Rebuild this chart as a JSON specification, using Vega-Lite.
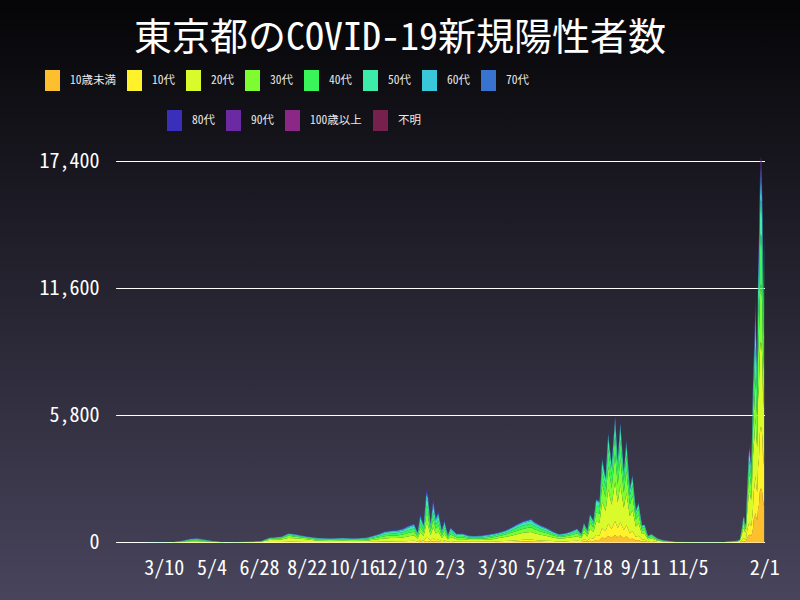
{
  "$schema": "https://vega.github.io/schema/vega-lite/v6.json",
  "width": 800,
  "height": 600,
  "autosize": {"type": "none"},
  "padding": 0,
  "background": "#050507",
  "title": {
    "text": "東京都のCOVID-19新規陽性者数",
    "font": "Noto Sans Mono CJK JP, Noto Sans CJK JP, DejaVu Sans Mono",
    "fontSize": 38,
    "fontWeight": "normal",
    "color": "#ffffff",
    "anchor": "middle",
    "frame": "group",
    "baseline": "alphabetic",
    "offset": -88
  },
  "config": {
    "view": {
      "stroke": null,
      "fill": {
        "gradient": "linear",
        "x1": 0, "y1": 0, "x2": 0, "y2": 1,
        "stops": [
          {"offset": 0, "color": "#050507"},
          {"offset": 1, "color": "#48445c"}
        ]
      }
    },
    "font": "Noto Sans Mono CJK JP, Noto Sans CJK JP, DejaVu Sans Mono",
    "axis": {
      "labelFont": "Noto Sans Mono CJK JP, Noto Sans CJK JP, DejaVu Sans Mono",
      "labelFontSize": 20,
      "labelColor": "#ffffff",
      "domain": false,
      "ticks": false,
      "grid": false,
      "title": null
    },
    "legend": {
      "labelFont": "Noto Sans Mono CJK JP, Noto Sans CJK JP, DejaVu Sans Mono",
      "labelFontSize": 11.5,
      "labelColor": "#e8e8e8",
      "labelOffset": 7,
      "columnPadding": 8,
      "padding": 0,
      "symbolStrokeWidth": 0,
      "symbolOpacity": 1,
      "title": null
    }
  },
  "datasets": {
    "ages": [
      {"o": 1, "age": "10歳未満"},
      {"o": 2, "age": "10代"},
      {"o": 3, "age": "20代"},
      {"o": 4, "age": "30代"},
      {"o": 5, "age": "40代"},
      {"o": 6, "age": "50代"},
      {"o": 7, "age": "60代"},
      {"o": 8, "age": "70代"},
      {"o": 9, "age": "80代"},
      {"o": 10, "age": "90代"},
      {"o": 11, "age": "100歳以上"},
      {"o": 12, "age": "不明"}
    ],
    "grid": [{"n": 0}, {"n": 5800}, {"n": 11600}, {"n": 17400}],
    "daily": [
      {"t": "2020-01-16", "v": [0,0,0,0,0,0,0,0,0,0,0,0]},
      {"t": "2020-02-13", "v": [0,0,1,0,0,1,0,0,0,0,0,0]},
      {"t": "2020-03-05", "v": [0,0,2,2,1,1,1,1,0,0,0,0]},
      {"t": "2020-03-19", "v": [0,0,4,3,3,2,1,1,1,0,0,0]},
      {"t": "2020-03-31", "v": [1,2,20,18,14,11,6,4,3,1,0,0]},
      {"t": "2020-04-10", "v": [2,5,45,40,31,25,14,9,7,2,0,0]},
      {"t": "2020-04-17", "v": [2,6,50,44,34,28,16,10,8,2,0,0]},
      {"t": "2020-04-24", "v": [2,4,37,33,26,21,12,8,6,1,0,0]},
      {"t": "2020-05-05", "v": [1,2,17,15,12,10,6,4,3,0,0,0]},
      {"t": "2020-05-19", "v": [0,0,3,3,2,2,1,1,0,0,0,0]},
      {"t": "2020-06-02", "v": [0,1,5,4,3,3,2,1,1,0,0,0]},
      {"t": "2020-06-16", "v": [1,2,14,9,5,4,2,1,1,1,0,0]},
      {"t": "2020-06-30", "v": [1,4,24,13,7,5,2,2,1,1,0,0]},
      {"t": "2020-07-10", "v": [5,14,92,48,28,18,9,7,5,2,0,2]},
      {"t": "2020-07-24", "v": [6,17,112,59,34,22,11,8,6,3,0,2]},
      {"t": "2020-08-01", "v": [9,26,176,92,53,35,18,13,9,4,0,5]},
      {"t": "2020-08-07", "v": [8,24,160,84,48,32,16,12,8,4,0,4]},
      {"t": "2020-08-21", "v": [6,18,120,63,36,24,12,9,6,3,0,3]},
      {"t": "2020-09-04", "v": [7,13,59,44,35,29,15,9,7,2,0,0]},
      {"t": "2020-09-18", "v": [6,12,54,40,32,26,14,8,6,2,0,0]},
      {"t": "2020-10-02", "v": [7,13,59,44,35,29,15,9,7,2,0,0]},
      {"t": "2020-10-16", "v": [6,12,54,40,32,26,14,8,6,2,0,0]},
      {"t": "2020-10-30", "v": [7,14,62,46,37,30,16,9,7,2,0,0]},
      {"t": "2020-11-13", "v": [12,24,108,80,64,52,28,16,12,4,0,0]},
      {"t": "2020-11-20", "v": [16,31,140,104,83,68,36,21,16,5,0,0]},
      {"t": "2020-11-27", "v": [17,34,151,112,90,73,39,22,17,5,0,0]},
      {"t": "2020-12-04", "v": [17,35,157,116,93,75,41,23,17,6,0,0]},
      {"t": "2020-12-11", "v": [20,39,175,130,104,85,45,26,20,6,0,0]},
      {"t": "2020-12-18", "v": [24,48,216,160,128,104,56,32,24,8,0,0]},
      {"t": "2020-12-24", "v": [26,53,238,176,141,114,62,35,26,9,0,0]},
      {"t": "2020-12-28", "v": [14,29,130,96,77,62,34,19,14,5,0,0]},
      {"t": "2020-12-31", "v": [40,80,335,241,214,188,94,67,54,27,0,0]},
      {"t": "2021-01-04", "v": [26,53,220,158,141,123,62,44,35,18,0,0]},
      {"t": "2021-01-07", "v": [74,147,612,441,392,343,171,122,98,50,0,0]},
      {"t": "2021-01-09", "v": [68,136,568,409,363,318,159,113,91,45,0,0]},
      {"t": "2021-01-12", "v": [29,58,243,175,155,136,68,48,39,19,0,0]},
      {"t": "2021-01-15", "v": [61,122,510,367,326,286,143,102,82,41,0,0]},
      {"t": "2021-01-18", "v": [36,72,300,216,192,168,84,60,48,24,0,0]},
      {"t": "2021-01-21", "v": [44,88,368,265,235,206,103,73,59,29,0,0]},
      {"t": "2021-01-25", "v": [19,37,155,112,99,87,43,31,25,12,0,0]},
      {"t": "2021-01-28", "v": [32,64,265,191,170,148,74,53,42,21,0,0]},
      {"t": "2021-02-01", "v": [12,23,98,70,62,55,27,20,16,7,0,0]},
      {"t": "2021-02-04", "v": [22,44,183,131,117,102,51,37,29,14,0,0]},
      {"t": "2021-02-11", "v": [13,26,108,77,69,60,30,22,17,8,0,0]},
      {"t": "2021-02-18", "v": [13,26,110,79,70,62,31,22,18,9,0,0]},
      {"t": "2021-02-25", "v": [10,20,85,61,54,48,24,17,14,7,0,0]},
      {"t": "2021-03-04", "v": [10,19,80,58,51,45,22,16,13,6,0,0]},
      {"t": "2021-03-11", "v": [10,20,85,61,54,48,24,17,14,7,0,0]},
      {"t": "2021-03-18", "v": [11,23,95,68,61,53,27,19,15,8,0,0]},
      {"t": "2021-03-25", "v": [13,26,108,77,69,60,30,22,17,8,0,0]},
      {"t": "2021-04-01", "v": [19,38,154,91,72,53,24,14,10,5,0,0]},
      {"t": "2021-04-08", "v": [22,45,179,106,84,62,28,17,11,6,0,0]},
      {"t": "2021-04-15", "v": [28,56,224,133,105,77,35,21,14,7,0,0]},
      {"t": "2021-04-22", "v": [34,69,275,163,129,95,43,26,17,9,0,0]},
      {"t": "2021-04-29", "v": [40,80,320,190,150,110,50,30,20,10,0,0]},
      {"t": "2021-05-08", "v": [44,88,352,209,165,121,55,33,22,11,0,0]},
      {"t": "2021-05-12", "v": [38,77,307,182,144,106,48,29,19,10,0,0]},
      {"t": "2021-05-19", "v": [32,64,256,152,120,88,40,24,16,8,0,0]},
      {"t": "2021-05-26", "v": [27,54,218,129,102,75,34,20,14,7,0,0]},
      {"t": "2021-06-02", "v": [21,42,166,99,78,57,26,16,10,5,0,0]},
      {"t": "2021-06-09", "v": [16,32,128,76,60,44,20,12,8,4,0,0]},
      {"t": "2021-06-16", "v": [17,34,138,82,65,47,22,13,9,3,0,0]},
      {"t": "2021-06-23", "v": [21,42,166,99,78,57,26,16,10,5,0,0]},
      {"t": "2021-06-30", "v": [26,52,208,124,98,71,33,20,13,5,0,0]},
      {"t": "2021-07-05", "v": [24,44,124,84,64,40,12,4,4,0,0,0]},
      {"t": "2021-07-08", "v": [54,99,279,189,144,90,27,9,9,0,0,0]},
      {"t": "2021-07-12", "v": [33,61,170,115,88,55,17,5,6,0,0,0]},
      {"t": "2021-07-15", "v": [78,143,403,273,208,130,39,13,13,0,0,0]},
      {"t": "2021-07-19", "v": [60,110,310,210,160,100,30,10,10,0,0,0]},
      {"t": "2021-07-22", "v": [119,218,614,416,317,198,59,20,19,0,0,0]},
      {"t": "2021-07-26", "v": [114,209,589,399,304,190,57,19,19,0,0,0]},
      {"t": "2021-07-29", "v": [232,425,1197,811,618,386,116,38,37,0,0,0]},
      {"t": "2021-08-02", "v": [180,330,930,630,480,300,90,30,30,0,0,0]},
      {"t": "2021-08-05", "v": [302,554,1562,1058,806,504,151,50,53,0,0,0]},
      {"t": "2021-08-09", "v": [216,396,1116,756,576,360,108,36,36,0,0,0]},
      {"t": "2021-08-13", "v": [348,638,1798,1218,928,580,174,58,58,0,0,0]},
      {"t": "2021-08-16", "v": [228,418,1178,798,608,380,114,38,38,0,0,0]},
      {"t": "2021-08-19", "v": [332,608,1714,1161,885,553,166,55,56,0,0,0]},
      {"t": "2021-08-23", "v": [198,363,1023,693,528,330,99,33,33,0,0,0]},
      {"t": "2021-08-26", "v": [282,517,1457,987,752,470,141,47,47,0,0,0]},
      {"t": "2021-08-30", "v": [150,275,775,525,400,250,75,25,25,0,0,0]},
      {"t": "2021-09-02", "v": [186,341,961,651,496,310,93,31,31,0,0,0]},
      {"t": "2021-09-06", "v": [90,165,465,315,240,150,45,15,15,0,0,0]},
      {"t": "2021-09-09", "v": [110,201,567,384,293,183,55,18,19,0,0,0]},
      {"t": "2021-09-13", "v": [48,88,248,168,128,80,24,8,8,0,0,0]},
      {"t": "2021-09-16", "v": [50,91,257,174,133,83,25,8,9,0,0,0]},
      {"t": "2021-09-20", "v": [18,33,93,63,48,30,9,3,3,0,0,0]},
      {"t": "2021-09-24", "v": [23,42,118,80,61,38,11,4,3,0,0,0]},
      {"t": "2021-10-01", "v": [10,16,50,38,30,22,14,10,6,2,0,2]},
      {"t": "2021-10-08", "v": [6,9,27,21,16,12,8,6,3,1,0,1]},
      {"t": "2021-10-22", "v": [2,2,8,6,4,3,2,2,1,0,0,0]},
      {"t": "2021-11-05", "v": [1,2,6,5,4,3,2,1,1,0,0,0]},
      {"t": "2021-11-19", "v": [1,2,6,4,3,2,2,1,1,0,0,0]},
      {"t": "2021-12-03", "v": [1,2,5,4,3,2,1,1,1,0,0,0]},
      {"t": "2021-12-17", "v": [1,2,6,5,4,3,2,1,1,0,0,0]},
      {"t": "2021-12-28", "v": [4,6,18,13,10,8,5,3,2,1,0,0]},
      {"t": "2022-01-01", "v": [4,8,30,14,10,6,3,2,1,0,0,2]},
      {"t": "2022-01-04", "v": [8,15,57,25,18,12,6,3,2,1,0,3]},
      {"t": "2022-01-05", "v": [20,39,148,66,47,31,16,8,4,1,0,10]},
      {"t": "2022-01-06", "v": [32,64,243,109,77,51,26,13,6,3,0,16]},
      {"t": "2022-01-07", "v": [46,92,350,156,110,74,37,18,9,5,0,23]},
      {"t": "2022-01-08", "v": [61,122,464,207,146,98,49,24,12,6,0,31]},
      {"t": "2022-01-09", "v": [61,122,464,207,146,98,49,24,12,6,0,31]},
      {"t": "2022-01-10", "v": [44,87,331,148,104,70,35,17,9,4,0,21]},
      {"t": "2022-01-11", "v": [48,96,365,163,115,77,38,19,10,5,0,24]},
      {"t": "2022-01-12", "v": [176,264,704,374,286,176,88,44,22,22,0,44]},
      {"t": "2022-01-13", "v": [250,374,998,530,406,250,125,62,31,31,0,63]},
      {"t": "2022-01-14", "v": [324,486,1296,689,527,324,162,81,40,40,0,81]},
      {"t": "2022-01-15", "v": [365,547,1459,775,593,365,182,91,46,46,0,91]},
      {"t": "2022-01-16", "v": [334,500,1334,709,542,334,167,83,42,42,0,83]},
      {"t": "2022-01-17", "v": [298,446,1190,632,484,298,149,74,37,37,0,75]},
      {"t": "2022-01-18", "v": [415,623,1661,882,675,415,208,104,52,52,0,103]},
      {"t": "2022-01-19", "v": [590,886,2362,1255,959,590,295,148,74,74,0,147]},
      {"t": "2022-01-20", "v": [1037,1296,2074,1382,1123,778,432,259,86,87,0,86]},
      {"t": "2022-01-21", "v": [1164,1455,2328,1552,1261,873,485,291,97,97,0,97]},
      {"t": "2022-01-22", "v": [1348,1684,2695,1797,1460,1011,561,337,112,112,0,113]},
      {"t": "2022-01-23", "v": [1136,1420,2273,1515,1231,852,474,284,95,95,0,95]},
      {"t": "2022-01-24", "v": [1020,1275,2040,1360,1105,765,425,255,85,85,0,85]},
      {"t": "2022-01-25", "v": [1537,1922,3074,2050,1665,1153,640,384,128,128,0,129]},
      {"t": "2022-01-26", "v": [1691,2113,3382,2254,1832,1268,704,423,141,141,0,141]},
      {"t": "2022-01-27", "v": [2316,2646,3639,2481,2150,1489,827,496,165,165,0,166]},
      {"t": "2022-01-28", "v": [2468,2821,3879,2644,2292,1587,881,529,176,176,0,177]},
      {"t": "2022-01-29", "v": [2440,2789,3835,2614,2266,1569,871,523,174,174,0,175]},
      {"t": "2022-01-30", "v": [2226,2544,3498,2385,2067,1431,795,477,159,159,0,159]},
      {"t": "2022-01-31", "v": [1645,1880,2585,1762,1528,1057,588,352,118,117,0,118]},
      {"t": "2022-02-01", "v": [2023,2312,3179,2167,1879,1300,723,434,144,145,0,144]}
    ]
  },
  "layer": [
    {
      "data": {"name": "grid"},
      "mark": {"type": "rule", "color": "#ffffff", "strokeWidth": 1},
      "encoding": {
        "y": {
          "field": "n",
          "type": "quantitative",
          "scale": {"domain": [0, 17400], "range": [542.5, 161.5], "nice": false, "zero": true},
          "axis": {"orient": "left", "offset": -117, "labelPadding": 18, "values": [0, 5800, 11600, 17400], "labelExpr": "format(datum.value, ',')"}
        },
        "x": {
          "datum": {"year": 2020, "month": 1, "date": 15, "utc": true},
          "type": "temporal",
          "scale": {
            "type": "utc",
            "domain": [{"year": 2020, "month": 1, "date": 16, "utc": true}, {"year": 2022, "month": 2, "date": 2, "utc": true}],
            "range": [117, 765]
          },
          "axis": {
            "orient": "bottom",
            "offset": -58,
            "labelPadding": 16,
            "labelOverlap": false,
            "labelFlush": false,
            "labelBound": false,
            "format": "%-m/%-d",
            "values": [
              {"year": 2020, "month": 3, "date": 10, "utc": true},
              {"year": 2020, "month": 5, "date": 4, "utc": true},
              {"year": 2020, "month": 6, "date": 28, "utc": true},
              {"year": 2020, "month": 8, "date": 22, "utc": true},
              {"year": 2020, "month": 10, "date": 16, "utc": true},
              {"year": 2020, "month": 12, "date": 10, "utc": true},
              {"year": 2021, "month": 2, "date": 3, "utc": true},
              {"year": 2021, "month": 3, "date": 30, "utc": true},
              {"year": 2021, "month": 5, "date": 24, "utc": true},
              {"year": 2021, "month": 7, "date": 18, "utc": true},
              {"year": 2021, "month": 9, "date": 11, "utc": true},
              {"year": 2021, "month": 11, "date": 5, "utc": true},
              {"year": 2022, "month": 2, "date": 1, "utc": true}
            ]
          }
        },
        "x2": {"datum": {"year": 2022, "month": 2, "date": 2, "utc": true}}
      }
    },
    {
      "data": {"name": "daily"},
      "transform": [
        {"flatten": ["v"], "as": ["n"]},
        {"window": [{"op": "row_number", "as": "o"}], "groupby": ["t"]},
        {"lookup": "o", "from": {"data": {"name": "ages"}, "key": "o", "fields": ["age"]}}
      ],
      "mark": {"type": "area", "interpolate": "linear", "opacity": 1},
      "encoding": {
        "x": {"field": "t", "type": "temporal"},
        "y": {
          "field": "n",
          "type": "quantitative",
          "stack": "zero",
          "axis": {"orient": "left", "offset": -117, "labelPadding": 18, "values": [0, 5800, 11600, 17400], "labelExpr": "format(datum.value, ',')"}
        },
        "color": {
          "field": "age",
          "type": "nominal",
          "scale": {
            "domain": ["10歳未満", "10代", "20代", "30代", "40代", "50代", "60代", "70代", "80代", "90代", "100歳以上", "不明"],
            "range": ["#fdbf2d", "#fff22a", "#d9fb2c", "#7dfc31", "#39f55a", "#3deca8", "#38c8da", "#3873cf", "#3a2fba", "#6c2aa2", "#8b2887", "#75204d"]
          },
          "legend": {
            "orient": "none",
            "legendX": 42,
            "legendY": 70,
            "direction": "horizontal",
            "columns": 8,
            "symbolType": "M-0.714,-1H0.714V1H-0.714Z",
            "symbolSize": 441,
            "symbolOpacity": 1,
            "values": ["10歳未満", "10代", "20代", "30代", "40代", "50代", "60代", "70代"]
          }
        },
        "order": {"field": "o", "type": "quantitative"}
      }
    },
    {
      "data": {"name": "daily"},
      "transform": [
        {"flatten": ["v"], "as": ["n"]},
        {"window": [{"op": "row_number", "as": "o"}], "groupby": ["t"]},
        {"filter": "datum.o > 8"},
        {"lookup": "o", "from": {"data": {"name": "ages"}, "key": "o", "fields": ["age"]}}
      ],
      "mark": {"type": "area", "opacity": 0},
      "encoding": {
        "x": {"field": "t", "type": "temporal"},
        "y": {
          "field": "n",
          "type": "quantitative",
          "stack": "zero",
          "axis": {"orient": "left", "offset": -117, "labelPadding": 18, "values": [0, 5800, 11600, 17400], "labelExpr": "format(datum.value, ',')"}
        },
        "color": {
          "field": "age",
          "type": "nominal",
          "scale": {
            "domain": ["80代", "90代", "100歳以上", "不明"],
            "range": ["#3a2fba", "#6c2aa2", "#8b2887", "#75204d"]
          },
          "legend": {
            "orient": "none",
            "legendX": 164,
            "legendY": 110,
            "direction": "horizontal",
            "columns": 4,
            "symbolType": "M-0.714,-1H0.714V1H-0.714Z",
            "symbolSize": 441,
            "symbolOpacity": 1,
            "values": ["80代", "90代", "100歳以上", "不明"]
          }
        }
      }
    }
  ],
  "resolve": {"scale": {"color": "independent"}, "legend": {"color": "independent"}}
}
